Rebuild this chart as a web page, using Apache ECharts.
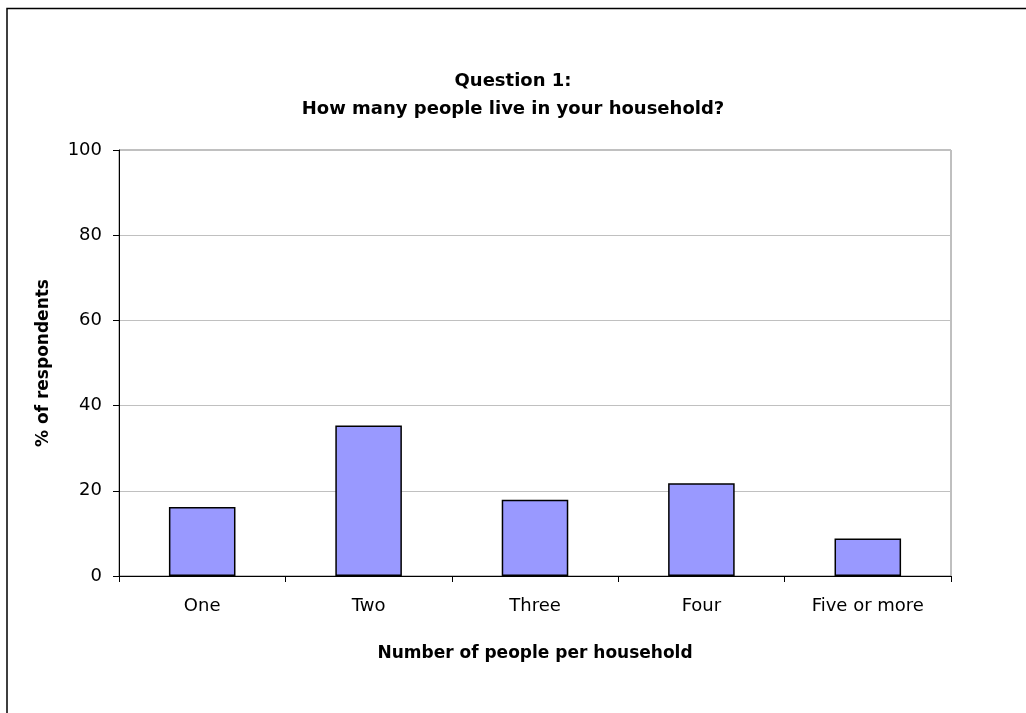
<!DOCTYPE html>
<html>
<head>
<meta charset="utf-8">
<style>
  html, body { margin: 0; padding: 0; background: #fff; }
  #chart { width: 1026px; height: 713px; }
</style>
<script src="https://cdn.jsdelivr.net/npm/echarts@6/dist/echarts.min.js"></script>
</head>
<body>
<div id="chart"></div>
<script>
// Household size survey results
const categories = ['One', 'Two', 'Three', 'Four', 'Five or more'];
const percentRespondents = [16.2, 35.3, 17.9, 21.8, 8.8];
const yTicks = [0, 20, 40, 60, 80, 100];

const FONT = "'DejaVu Sans', 'Liberation Sans', Arial, sans-serif";

const chart = echarts.init(document.getElementById('chart'), null, { renderer: 'canvas' });

chart.setOption({
  backgroundColor: '#ffffff',
  animation: false,
  title: {
    text: 'Question 1:\nHow many people live in your household?',
    left: 'center',
    top: 62,
    textStyle: {
      fontFamily: FONT,
      fontSize: 18,
      fontWeight: 'bold',
      color: '#000',
      lineHeight: 28
    }
  },
  graphic: [{
    type: 'rect',
    shape: { x: 7, y: 8.5, width: 1100, height: 800 },
    style: { fill: 'none', stroke: '#000', lineWidth: 1.5 },
    silent: true
  }],
  grid: {
    left: 119,
    right: 75,
    top: 150,
    bottom: 137,
    show: true,
    borderColor: '#808080',
    borderWidth: 1,
    backgroundColor: '#fff'
  },
  xAxis: {
    type: 'category',
    data: categories,
    boundaryGap: true,
    name: 'Number of people per household',
    nameLocation: 'middle',
    nameGap: 69,
    nameTextStyle: { fontFamily: FONT, fontSize: 17, fontWeight: 'bold', color: '#000' },
    axisLine: { lineStyle: { color: '#000', width: 1 } },
    axisTick: { show: true, alignWithLabel: false, length: 6, inside: false, lineStyle: { color: '#000' } },
    axisLabel: { fontFamily: FONT, fontSize: 18, color: '#000', margin: 21 },
    splitLine: { show: false }
  },
  yAxis: {
    type: 'value',
    min: yTicks[0],
    max: yTicks[yTicks.length - 1],
    interval: yTicks[1] - yTicks[0],
    name: '% of respondents',
    nameLocation: 'middle',
    nameGap: 67,
    nameTextStyle: { fontFamily: FONT, fontSize: 17, fontWeight: 'bold', color: '#000' },
    axisLine: { show: true, lineStyle: { color: '#000', width: 1 } },
    axisTick: { show: true, length: 6, inside: false, lineStyle: { color: '#000' } },
    axisLabel: { fontFamily: FONT, fontSize: 18, color: '#000', margin: 17 },
    splitLine: { show: true, lineStyle: { color: '#c0c0c0', width: 1 } }
  },
  series: [{
    type: 'bar',
    data: percentRespondents,
    barWidth: '40%',
    itemStyle: {
      color: '#9999ff',
      borderColor: '#000',
      borderWidth: 1.5
    }
  }]
});
</script>
</body>
</html>
